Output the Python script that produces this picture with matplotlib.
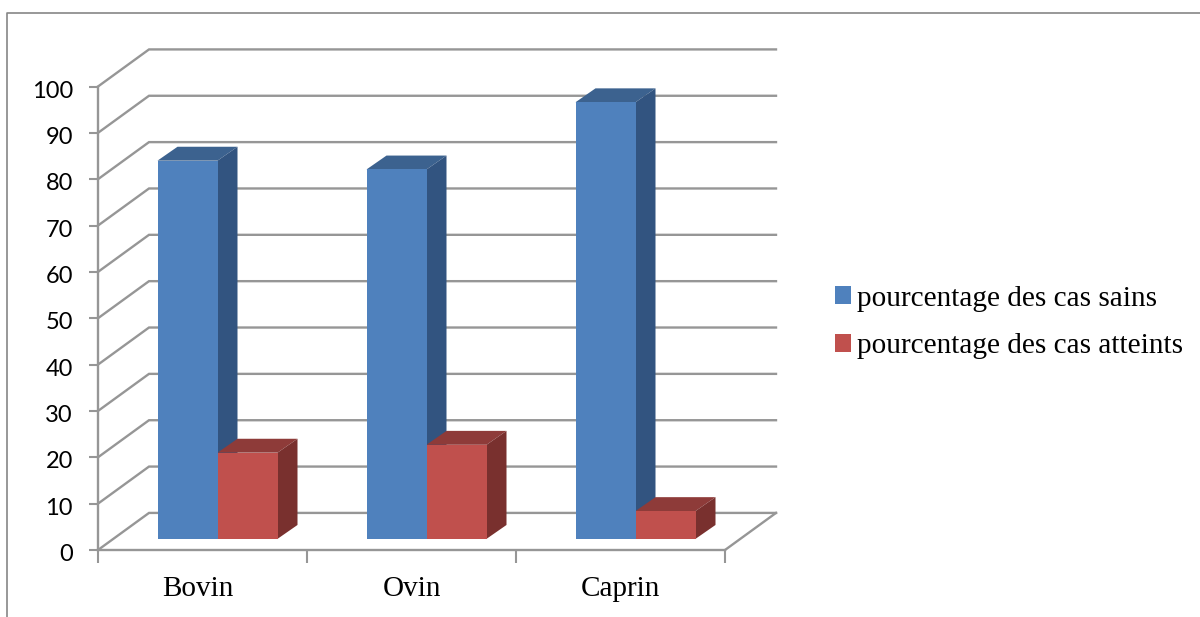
import matplotlib
matplotlib.use("Agg")
import matplotlib.pyplot as plt
import matplotlib.transforms as mtransforms
import numpy as np
from matplotlib.lines import Line2D
from matplotlib.patches import Patch, Polygon

categories = ["Bovin", "Ovin", "Caprin"]
sains = [81.6, 79.7, 94.2]
atteints = [18.6, 20.3, 6.0]
y_ticks = list(range(0, 101, 10))

W, H = 1200, 617
GRID = "#969696"
TEXT = "#000000"

# depth of the fake 3d box, x in category units and y in value units
wall_dx, wall_dy = 51 / 209, 8.0
bar_dx, bar_dy = 20 / 209, 3.0
shift_dx, shift_dy = 15 / 209, 2.4
bar_w = 60 / 209

fig = plt.figure(figsize=(W / 100, H / 100), dpi=100, facecolor="white")
ax = fig.add_axes([98 / W, 1 - 550 / H, 627 / W, 463.5 / H])
ax.set_xlim(0, 3)
ax.set_ylim(0, 100)
ax.patch.set_visible(False)


def bar_3d(x, val, front, top, side):
    b = shift_dy
    ax.bar(x, val, bar_w, bottom=b, align="edge", color=front, zorder=5)
    ax.add_patch(Polygon([(x, b + val), (x + bar_w, b + val),
                          (x + bar_w + bar_dx, b + val + bar_dy), (x + bar_dx, b + val + bar_dy)],
                         facecolor=top, edgecolor="none", zorder=4))
    ax.add_patch(Polygon([(x + bar_w, b), (x + bar_w + bar_dx, b + bar_dy),
                          (x + bar_w + bar_dx, b + val + bar_dy), (x + bar_w, b + val)],
                         facecolor=side, edgecolor="none", zorder=4))


# gridlines go up the side wall then across the back
for v in y_ticks:
    ax.plot([0, wall_dx, 3 + wall_dx], [v, v + wall_dy, v + wall_dy],
            color=GRID, lw=1.7, clip_on=False, zorder=1, solid_joinstyle="miter")
ax.plot([3, 3 + wall_dx], [0, wall_dy], color=GRID, lw=1.7, clip_on=False, zorder=1)

for i in range(len(categories)):
    x0 = i + 0.5 + shift_dx
    bar_3d(x0 - bar_w, sains[i], "#4f81bd", "#3c628f", "#325480")
    bar_3d(x0, atteints[i], "#c0504d", "#8e3b39", "#79302e")

for s in ["top", "right"]:
    ax.spines[s].set_visible(False)
for s in ["left", "bottom"]:
    ax.spines[s].set_color(GRID)
    ax.spines[s].set_linewidth(1.7)
    ax.spines[s].set_zorder(2)

ax.set_yticks(y_ticks)
ax.set_yticklabels([str(v) for v in y_ticks], fontfamily="Lato", fontsize=17, color=TEXT)
ax.tick_params(axis="y", length=6.5, width=1.5, color=GRID, pad=11.5)
# labels sit a little under their ticks
down = mtransforms.ScaledTranslation(0, -2.5 / 100, fig.dpi_scale_trans)
for lab in ax.get_yticklabels():
    lab.set_transform(lab.get_transform() + down)

ax.set_xticks(range(len(categories) + 1))
ax.set_xticklabels([])
ax.set_xticks(np.arange(len(categories)) + 0.5, minor=True)
ax.set_xticklabels(categories, minor=True, fontfamily="Liberation Serif", fontsize=21, color=TEXT)
ax.tick_params(axis="x", which="major", length=9, width=1.5, color=GRID)
ax.tick_params(axis="x", which="minor", length=0, pad=19)
# Bovin sits left of the middle of its slot
left = mtransforms.ScaledTranslation(-5 / 100, 0, fig.dpi_scale_trans)
lab0 = ax.get_xticklabels(minor=True)[0]
lab0.set_transform(lab0.get_transform() + left)

handles = [Patch(facecolor="#4f81bd", label="pourcentage des cas sains"),
           Patch(facecolor="#c0504d", label="pourcentage des cas atteints")]
fig.legend(handles=handles, loc="upper left", bbox_to_anchor=(826 / W, 1 - 277 / H),
           frameon=False, prop={"family": "Liberation Serif", "size": 21.1},
           handlelength=0.57, handleheight=0.57, handletextpad=0.2, labelspacing=0.72,
           borderpad=0.3, borderaxespad=0, labelcolor=TEXT)

# outer frame of the chart, cut off at the right and bottom
fig.add_artist(Line2D([7 / W, 7 / W, 1], [0, 1 - 13 / H, 1 - 13 / H], color="#868686", lw=1.2))

fig.savefig("out.png", dpi=100)
